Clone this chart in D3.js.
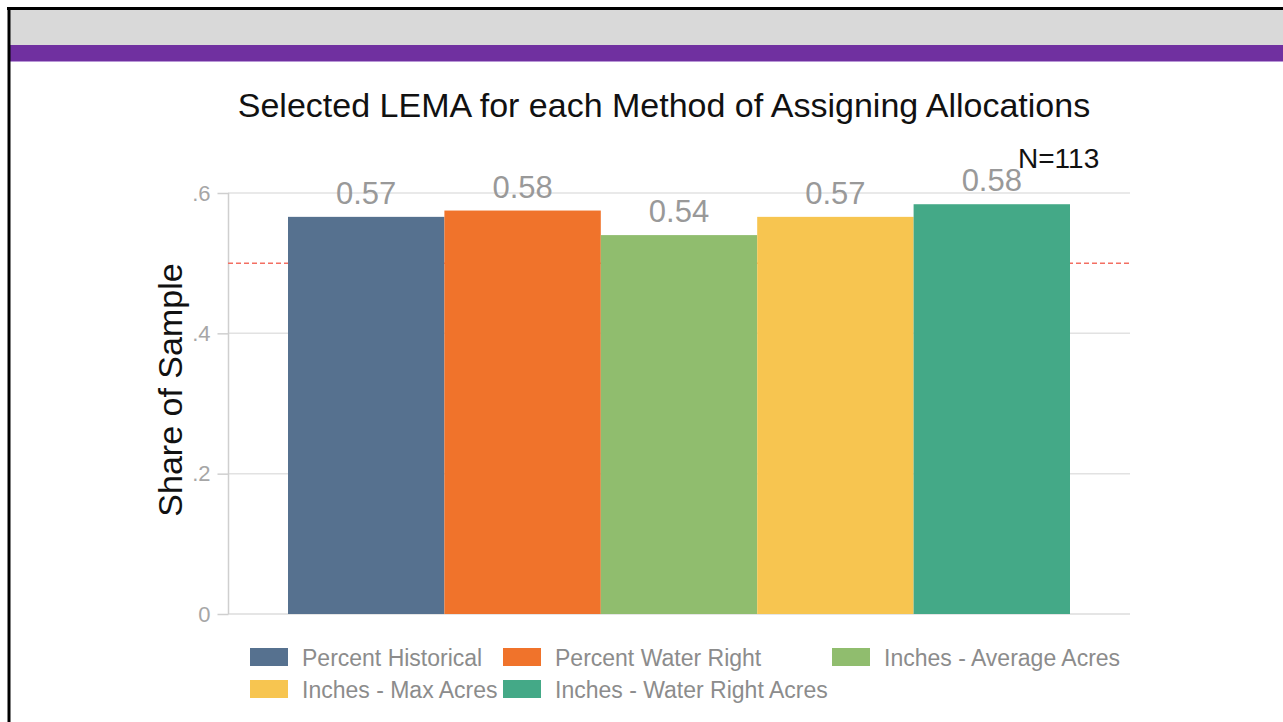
<!DOCTYPE html>
<html>
<head>
<meta charset="utf-8">
<script src="https://d3js.org/d3.v7.min.js"></script>
<style>
    body {margin: 0; background: #fff;}
    text {font-family: "Liberation Sans", Arial, sans-serif;}
</style>
</head>
<body>
<script>

    // data
    var methods = ["Percent Historical", "Percent Water Right", "Inches - Average Acres",
                   "Inches - Max Acres", "Inches - Water Right Acres"];
    var shares = [0.566, 0.575, 0.540, 0.566, 0.584];
    var labels = ["0.57", "0.58", "0.54", "0.57", "0.58"];
    var colors = ["#56718f", "#f0732b", "#90bd6e", "#f7c550", "#44a987"];
    var yTicks = [0, 0.2, 0.4, 0.6];
    var yTickText = ["0", ".2", ".4", ".6"];
    var refLine = 0.5;
    var sampleN = "N=113";

    var W = 1283, H = 722;

    var svg = d3.select("body").append("svg")
        .attr("width", W)
        .attr("height", H);

    // slide frame
    svg.append("rect").attr("x", 0).attr("y", 0).attr("width", W).attr("height", H).attr("fill", "#fff");
    svg.append("rect").attr("x", 9).attr("y", 9).attr("width", W - 9).attr("height", 36).attr("fill", "#d9d9d9");
    svg.append("rect").attr("x", 8).attr("y", 45).attr("width", W - 8).attr("height", 16).attr("fill", "#7030a0");
    svg.append("rect").attr("x", 8).attr("y", 61).attr("width", W - 8).attr("height", 1).attr("fill", "#b896d6");
    svg.append("line").attr("x1", 7).attr("x2", W).attr("y1", 8.5).attr("y2", 8.5)
        .attr("stroke", "#000").attr("stroke-width", 3);
    svg.append("line").attr("x1", 9).attr("x2", 9).attr("y1", 7).attr("y2", H)
        .attr("stroke", "#000").attr("stroke-width", 3);

    var plotLeft = 228, plotRight = 1130;

    var y = d3.scaleLinear()
        .domain([0, 0.6])
        .range([614, 193]);

    var x = d3.scaleBand()
        .domain(methods)
        .range([288, 1070])
        .padding(0);

    // gridlines
    svg.append("g").selectAll("line")
        .data(yTicks)
        .enter().append("line")
        .attr("x1", plotLeft).attr("x2", plotRight)
        .attr("y1", function (d) { return y(d); })
        .attr("y2", function (d) { return y(d); })
        .attr("stroke", function (d) { return d === 0 ? "#dcdcdc" : "#e2e2e2"; })
        .attr("stroke-width", 1.5);

    // y axis
    var yAxis = d3.axisLeft(y)
        .tickValues(yTicks)
        .tickSize(11)
        .tickPadding(7)
        .tickFormat(function (d, i) { return yTickText[i]; });

    var ga = svg.append("g")
        .attr("transform", "translate(" + (plotLeft + 0.5) + ",0)")
        .call(yAxis);
    ga.select(".domain").attr("stroke", "#cfcfcf").attr("stroke-width", 1.5).attr("d", "M0," + y(0) + "V" + y(0.6));
    ga.selectAll(".tick line").attr("stroke", "#cfcfcf").attr("stroke-width", 1.5);
    ga.selectAll(".tick text")
        .attr("fill", "#a6a6a6")
        .style("font-size", "22px")
        .style("font-family", "Liberation Sans, Arial, sans-serif");

    // reference line at .5
    svg.append("line")
        .attr("x1", plotLeft).attr("x2", plotRight)
        .attr("y1", y(refLine)).attr("y2", y(refLine))
        .attr("stroke", "#f36f62")
        .attr("stroke-width", 1.5)
        .attr("stroke-dasharray", "5,3");

    // bars
    svg.append("g").selectAll("rect")
        .data(shares)
        .enter().append("rect")
        .attr("x", function (d, i) { return x(methods[i]); })
        .attr("y", function (d) { return y(d); })
        .attr("width", x.bandwidth())
        .attr("height", function (d) { return y(0) - y(d); })
        .attr("fill", function (d, i) { return colors[i]; });

    // value labels
    svg.append("g").selectAll("text")
        .data(shares)
        .enter().append("text")
        .attr("x", function (d, i) { return x(methods[i]) + x.bandwidth() / 2; })
        .attr("y", function (d) { return y(d) - 13; })
        .attr("text-anchor", "middle")
        .attr("fill", "#999999")
        .style("font-size", "31px")
        .text(function (d, i) { return labels[i]; });

    // N
    svg.append("text")
        .attr("x", 1018).attr("y", 168)
        .attr("fill", "#111")
        .style("font-size", "28px")
        .text(sampleN);

    // title
    svg.append("text")
        .attr("x", 664).attr("y", 117)
        .attr("text-anchor", "middle")
        .attr("fill", "#111")
        .style("font-size", "34px")
        .text("Selected LEMA for each Method of Assigning Allocations");

    // y label
    svg.append("text")
        .attr("transform", "translate(182,390) rotate(-90)")
        .attr("text-anchor", "middle")
        .attr("fill", "#111")
        .style("font-size", "34px")
        .text("Share of Sample");

    // legend
    var legendPos = [[250, 657], [503, 657], [832, 657], [250, 689], [503, 689]];
    var lg = svg.append("g").selectAll("g")
        .data(methods)
        .enter().append("g")
        .attr("transform", function (d, i) { return "translate(" + legendPos[i][0] + "," + legendPos[i][1] + ")"; });
    lg.append("rect")
        .attr("x", 0).attr("y", -9)
        .attr("width", 38).attr("height", 18)
        .attr("fill", function (d, i) { return colors[i]; });
    lg.append("text")
        .attr("x", 52).attr("y", 9)
        .attr("fill", "#8c8c8c")
        .style("font-size", "23px")
        .text(function (d) { return d; });

</script>
</body>
</html>
